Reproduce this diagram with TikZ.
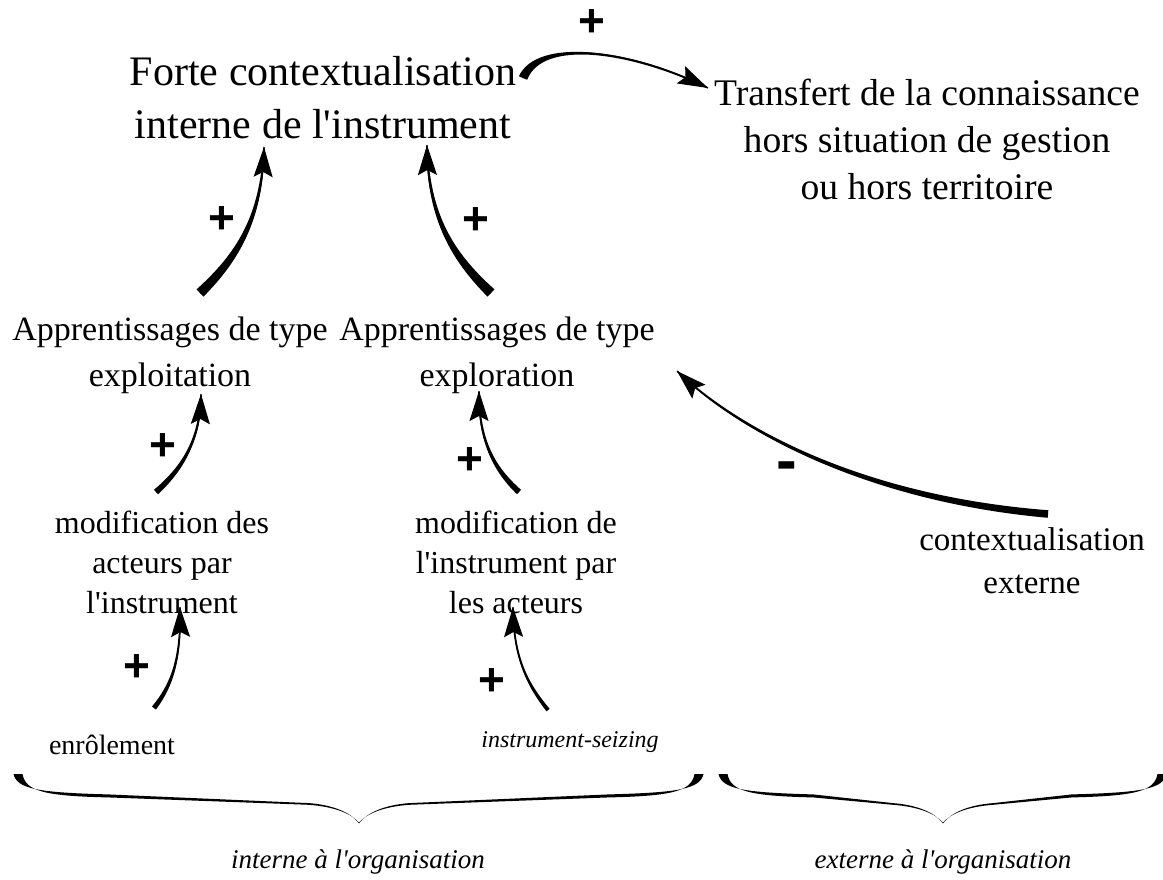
\documentclass[tikz,border=0pt]{standalone}
\usepackage{fontspec}
\newfontfamily\txt{Liberation Serif}
\newfontfamily\signfont{Liberation Sans}
\usetikzlibrary{calc,arrows.meta}

\tikzset{
  lbl/.style={align=center, inner sep=0pt},
  ttitle/.style={lbl, font={\txt\fontsize{42}{53}\selectfont}},
  ttrans/.style={lbl, font={\txt\fontsize{37.6}{47}\selectfont}},
  tappr/.style={lbl, font={\txt\fontsize{34}{46}\selectfont}},
  tmod/.style={lbl, font={\txt\fontsize{32}{40}\selectfont}},
  tctx/.style={lbl, font={\txt\fontsize{33}{43}\selectfont}},
  tsmall/.style={lbl, font={\txt\fontsize{28}{32}\selectfont}},
  tital/.style={lbl, font={\txt\itshape\fontsize{24}{28}\selectfont}},
  tgroup/.style={lbl, font={\txt\itshape\fontsize{27}{31}\selectfont}},
  sign/.style={inner sep=0pt, font={\signfont\bfseries\fontsize{46}{46}\selectfont}},
  minussign/.style={inner sep=0pt, font={\signfont\bfseries\fontsize{62}{62}\selectfont}},
  connline/.style={line width=1.4pt, shorten >=6pt},
  connhead/.style={line width=1.4pt, -{Stealth[length=30pt,width=19pt,inset=5pt]}},
}

% tapered connector: #1 start, #2 #3 controls, #4 end, #5 half width at start
\newcommand\taper[5]{%
  \fill ($(#1)!#5!90:(#2)$) .. controls ($(#2)!0.7*#5!-90:(#1)$) and ($(#3)!0.35*#5!90:(#4)$) .. ($(#4)!0.6pt!-90:(#3)$)
    -- ($(#4)!0.6pt!90:(#3)$) .. controls ($(#3)!0.35*#5!-90:(#4)$) and ($(#2)!0.7*#5!90:(#1)$) .. ($(#1)!#5!-90:(#2)$) -- cycle;
  \draw[connline] (#1) .. controls (#2) and (#3) .. (#4);%
  \draw[connhead] ($(#4)!1pt!(#3)$) -- (#4);%
}

% left half of a brace, tip at the origin, half length #1
\newcommand\halfbrace[1]{%
  \fill ({-#1-4.5},-49) .. controls ({-#1-1},-34) and ({-#1+20},-30.5) .. ({-#1+90},-28.6)
    -- (-50,-19.9) .. controls (-25,-17.9) and (-8.3,-10.3) .. (-0.3,0)
    -- (0.3,0) .. controls (-7.7,-9.7) and (-25,-16.3) .. (-50,-18.2)
    -- ({-#1+90},-25.6) .. controls ({-#1+26},-27) and ({-#1+7.5},-32) .. ({-#1+4.5},-49) -- cycle;%
}

\begin{document}
\begin{tikzpicture}[x=1pt,y=-1pt]
\useasboundingbox (0,0) rectangle (1163,879);

% texts
\node[ttitle] (t1) at (323,98) {Forte contextualisation\\interne de l'instrument};
\node[ttrans] (t2) at (927,139) {Transfert de la connaissance\\hors situation de gestion\\ou hors territoire};
\node[tappr] (a1) at (170,355) {Apprentissages de type\\exploitation};
\node[tappr] (a2) at (497,355) {Apprentissages de type\\exploration};
\node[tmod] (m1) at (162,562) {modification des\\acteurs par\\l'instrument};
\node[tmod] (m2) at (516,562) {modification de\\l'instrument par\\les acteurs};
\node[tctx] (ce) at (1032,561) {contextualisation\\externe};
\node[tsmall] (en) at (112,745) {enrôlement};
\node[tital] (is) at (570,742) {instrument-seizing};
\node[tgroup] (gi) at (358,862) {interne à l'organisation};
\node[tgroup] (ge) at (943,862) {externe à l'organisation};

% signs
\node[sign] (s0) at (592,23) {+};
\node[sign] (s1) at (222,220) {+};
\node[sign] (s2) at (476,221) {+};
\node[sign] (s3) at (163,447) {+};
\node[sign] (s4) at (470,461) {+};
\node[sign] (s5) at (137,668) {+};
\node[sign] (s6) at (492,682) {+};
\node[minussign] (s7) at (787,472) {-};

% connector end points and controls
\coordinate (p0) at (523,78);  \coordinate (p1) at (540,38);  \coordinate (p2) at (630,50);  \coordinate (p3) at (708,88);
\coordinate (a0) at (200,293); \coordinate (ac1) at (240,255); \coordinate (ac2) at (262,215); \coordinate (a3) at (264,147);
\coordinate (b0) at (491,293); \coordinate (bc1) at (451,255); \coordinate (bc2) at (428,215); \coordinate (b3) at (427,145);
\coordinate (c0) at (156,492); \coordinate (cc1) at (183,468); \coordinate (cc2) at (200,440); \coordinate (c3) at (201,394);
\coordinate (d0) at (519,492); \coordinate (dc1) at (493,468); \coordinate (dc2) at (479,440); \coordinate (d3) at (479,391);
\coordinate (e0) at (154,708); \coordinate (ec1) at (172,685); \coordinate (ec2) at (181,660); \coordinate (e3) at (180,607);
\coordinate (f0) at (548,710); \coordinate (fc1) at (528,685); \coordinate (fc2) at (514,660); \coordinate (f3) at (513,607);
\coordinate (g0) at (1048,514); \coordinate (gc1) at (880,500); \coordinate (gc2) at (750,440); \coordinate (g3) at (677,371);

\taper{p0}{p1}{p2}{p3}{4.5pt}
\taper{a0}{ac1}{ac2}{a3}{5pt}
\taper{b0}{bc1}{bc2}{b3}{5pt}
\taper{c0}{cc1}{cc2}{c3}{3pt}
\taper{d0}{dc1}{dc2}{d3}{3pt}
\taper{e0}{ec1}{ec2}{e3}{2.5pt}
\taper{f0}{fc1}{fc2}{f3}{2pt}
\taper{g0}{gc1}{gc2}{g3}{3.8pt}

% braces
\begin{scope}[shift={(359,823)}]
  \halfbrace{341}
  \begin{scope}[xscale=-1]\halfbrace{340}\end{scope}
\end{scope}
\begin{scope}[shift={(943,823)}]
  \halfbrace{220}
  \begin{scope}[xscale=-1]\halfbrace{219}\end{scope}
\end{scope}
\end{tikzpicture}
\end{document}
